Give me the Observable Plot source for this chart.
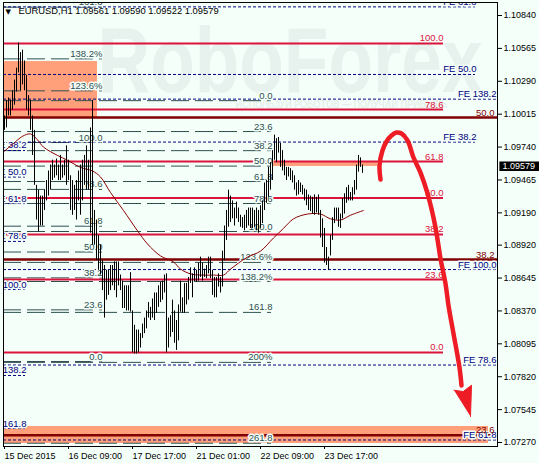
<!DOCTYPE html>
<html><head><meta charset="utf-8">
<script src="https://cdn.jsdelivr.net/npm/d3@7"></script>
<script src="https://cdn.jsdelivr.net/npm/@observablehq/plot@0.6"></script>
<style>
html,body{margin:0;padding:0;background:#F5FFFA;}
#chart svg{display:block;}
</style></head><body><div id="chart"></div>
<script>
// ---------- data ----------
const symbolName = "EURUSD,H1";
const lastOHLC = [1.09561, 1.09590, 1.09522, 1.09579];

const highs = [
1.1000,1.1013,1.1015,1.1013,1.1021,1.1030,1.1040,1.1061,1.1053,1.1055,
1.1046,1.1034,1.1017,1.1013,1.1000,1.0988,1.0942,1.0938,1.0933,1.0933,
1.0938,1.0946,1.0954,1.0959,1.0963,1.0959,1.0964,1.0959,1.0967,1.0959,
1.0963,1.0975,1.0963,1.0950,1.0946,1.0942,1.0946,1.0954,1.0959,1.0963,
1.0967,1.0975,1.0963,1.0990,1.1013,1.0921,1.0913,1.0900,1.0892,1.0879,
1.0875,1.0871,1.0871,1.0875,1.0875,1.0878,1.0878,1.0878,1.0867,1.0862,
1.0858,1.0858,1.0858,1.0869,1.0837,1.0825,1.0821,1.0821,1.0818,1.0826,
1.0831,1.0837,1.0844,1.0840,1.0847,1.0852,1.0852,1.0858,1.0861,1.0862,
1.0867,1.0868,1.0831,1.0833,1.0846,1.0837,1.0829,1.0842,1.0862,1.0848,
1.0860,1.0860,1.0865,1.0873,1.0868,1.0873,1.0871,1.0877,1.0882,1.0877,
1.0872,1.0875,1.0882,1.0882,1.0871,1.0865,1.0865,1.0868,1.0865,1.0887,
1.0908,1.0921,1.0938,1.0933,1.0929,1.0923,1.0928,1.0923,1.0917,1.0915,
1.0917,1.0921,1.0923,1.0923,1.0923,1.0921,1.0923,1.0921,1.0925,1.0929,
1.0944,1.0946,1.0957,1.0961,1.0971,1.0984,1.0981,1.0982,1.0977,1.0971,
1.0963,1.0957,1.0957,1.0956,1.0954,1.0950,1.0944,1.0946,1.0944,1.0942,
1.0939,1.0938,1.0934,1.0933,1.0932,1.0934,1.0932,1.0934,1.0921,1.0914,
1.0906,1.0890,1.0882,1.0900,1.0915,1.0923,1.0923,1.0923,1.0918,1.0931,
1.0935,1.0940,1.0942,1.0936,1.0940,1.0946,1.0959,1.0967,1.0965,1.0959];
const lows = [
1.0988,1.0990,1.1000,1.1000,1.1005,1.1009,1.1020,1.1036,1.1021,1.1026,
1.1021,1.1005,1.1000,1.0988,1.0967,1.0942,1.0913,1.0903,1.0908,1.0908,
1.0921,1.0929,1.0933,1.0938,1.0946,1.0948,1.0950,1.0946,1.0946,1.0948,
1.0950,1.0942,1.0946,1.0921,1.0917,1.0921,1.0913,1.0929,1.0917,1.0929,
1.0942,1.0938,1.0938,1.0902,1.0892,1.0892,1.0879,1.0871,1.0867,1.0854,
1.0831,1.0846,1.0850,1.0854,1.0858,1.0854,1.0848,1.0858,1.0854,1.0839,
1.0839,1.0837,1.0837,1.0836,1.0802,1.0801,1.0801,1.0802,1.0806,1.0814,
1.0818,1.0822,1.0831,1.0829,1.0831,1.0829,1.0835,1.0840,1.0844,1.0846,
1.0852,1.0802,1.0806,1.0815,1.0819,1.0810,1.0804,1.0812,1.0836,1.0835,
1.0835,1.0842,1.0846,1.0860,1.0848,1.0861,1.0861,1.0862,1.0865,1.0862,
1.0865,1.0864,1.0868,1.0864,1.0850,1.0848,1.0848,1.0857,1.0852,1.0857,
1.0879,1.0896,1.0907,1.0911,1.0914,1.0908,1.0914,1.0911,1.0907,1.0906,
1.0904,1.0906,1.0908,1.0906,1.0906,1.0907,1.0904,1.0902,1.0906,1.0910,
1.0921,1.0927,1.0932,1.0938,1.0946,1.0963,1.0961,1.0969,1.0957,1.0954,
1.0950,1.0946,1.0949,1.0946,1.0944,1.0938,1.0933,1.0934,1.0936,1.0934,
1.0929,1.0925,1.0921,1.0920,1.0918,1.0917,1.0919,1.0917,1.0898,1.0890,
1.0877,1.0875,1.0871,1.0883,1.0896,1.0910,1.0913,1.0907,1.0906,1.0914,
1.0918,1.0927,1.0929,1.0929,1.0929,1.0934,1.0938,1.0953,1.0957,1.0952];

// moving average (hour index, price)
const maHours = [0,5,9.5,13.5,17,20,27,32,38.5,44.5,48.5,53.5,60,67,72,78.5,85,88.5,93.5,98.5,105,110,113.5,117.5,122,128.5,135,140,145,152,158.5,163.5,168.5,173.5,180];
const maValues = [1.0970,1.0977,1.0983,1.0985,1.0980,1.0974,1.0967,1.0963,1.0957,1.0954,1.0949,1.0936,1.0921,1.0904,1.0893,1.0883,1.0878,1.0872,1.0868,1.0867,1.0867,1.0867,1.0872,1.0877,1.0882,1.0887,1.0898,1.0906,1.0914,1.0918,1.0918,1.0914,1.0913,1.0917,1.0921];

// time axis
const timeTickHours = [0,32,64,96,128,160];
const timeTickLabels = ["15 Dec 2015","16 Dec 09:00","17 Dec 17:00","21 Dec 01:00","22 Dec 09:00","23 Dec 17:00"];
const priceTicks = [1.10840,1.10565,1.10290,1.10015,1.09740,1.09465,1.09190,1.08920,1.08645,1.08370,1.08095,1.07820,1.07545,1.07270];

// Fibonacci tools: [price at 0%, price at 100%]
const retrLevels = [0,23.6,38.2,50,61.8,78.6,100,123.6,138.2,161.8,200,261.8];
const retrLabels = ["0.0","23.6","38.2","50.0","61.8","78.6","100.0","123.6%","138.2%","161.8","200%","261.8"];
const redLevels = [0,23.6,38.2,50,61.8,78.6,100];
const redLabels = ["0.0","23.6","38.2","50.0","61.8","78.6","100.0"];
const feLevels = [38.2,50,61.8,78.6,100,138.2,161.8];
const feLabels = ["FE 38.2","FE 50.0","FE 61.8","FE 78.6","FE 100.0","FE 138.2","FE 161.8"];
const fibA = [1.07947, 1.09778];
const fibB = [1.10128, 1.09034];
const fibC = [1.08023, 1.10606];
const fibD = [1.04957, 1.15017];
const feE = [1.10430, 1.08549];
const feF = [1.07952, 1.12742];
const feG = [1.04986, 1.08716];

// zones
const zoneStart = [0, 135, 0];
const zoneEnd = [47, 187, 242.5];
const zoneTop = [1.10455, 1.09611, 1.07404];
const zoneBottom = [1.09987, 1.09578, 1.07262];

// forecast arrow (hour index, price)
const arrowHours = [188.5,188,189.5,191.5,194,196.5,199,202,205,208.5,212,216,218.5,221,222.5,225,228,229];
const arrowPrices = [1.09469,1.09586,1.09711,1.09787,1.09837,1.09862,1.09853,1.09795,1.09653,1.09527,1.09352,1.09068,1.08808,1.08599,1.08415,1.08181,1.07897,1.07747];
const headHours = [225.25,229.85,234,233.5];
const headPrices = [1.07707,1.07696,1.07749,1.07487];

// ---------- build ----------
const BG = "#F5FFFA";
const bars = highs.map((h, i) => ({t: i + 0.5, high: h, low: lows[i]}));
const ma = maHours.map((t, i) => ({t, v: maValues[i]}));
const arrow = arrowHours.map((t, i) => ({t, v: arrowPrices[i]}));
const head = headHours.map((t, i) => ({t, v: headPrices[i]}));
const zones = zoneStart.map((s, i) => ({x1: s, x2: zoneEnd[i], y1: zoneBottom[i], y2: zoneTop[i]}));

function levelRows(tool, levels, labels, lineEnd, labelAt, lineStart = 0) {
  return levels.map((r, i) => ({
    price: tool[0] + (tool[1] - tool[0]) * r / 100,
    label: labels[i], x1: lineStart, x2: lineEnd, lx: labelAt
  }));
}
const setA = levelRows(fibA, retrLevels, retrLabels, 49.5, 49.5);
const setB = levelRows(fibB, retrLevels, retrLabels, 134, 134.5);
const setC = levelRows(fibC, redLevels, redLabels, 220, 220);
const setD = levelRows(fibD, redLevels, redLabels, 247, 245.5);
const setE = levelRows(feE, feLevels, feLabels, 11, 11.5, -20);
const setF = levelRows(feF, feLevels, feLabels, 236, 236.5);
const setG = levelRows(feG, feLevels, feLabels, 247, 246.5);

const GRAY = "#2F4F4F", NAVY = "#000080", CRIMSON = "#DC143C", MAROON = "#800000";
const labelFont = {fontSize: 9.5, fontFamily: "Liberation Sans, Arial, sans-serif"};

function rules(data, stroke, width, dash) {
  return Plot.ruleY(data, {y: "price", x1: "x1", x2: "x2", stroke, strokeWidth: width, strokeDasharray: dash, clip: true});
}
function labels(data, fill, halo) {
  return Plot.text(data, {y: "price", x: "lx", text: "label", fill, textAnchor: "end", lineAnchor: "bottom", dy: -2,
    ...labelFont, clip: true, ...(halo ? {stroke: BG, strokeWidth: 3, paintOrder: "stroke"} : {})});
}

const chart = Plot.plot({
  width: 539, height: 463,
  marginLeft: 3, marginRight: 42, marginTop: 2, marginBottom: 17,
  style: {background: BG, fontFamily: "Liberation Sans, Arial, sans-serif", fontSize: "9px", color: "black"},
  x: {domain: [0, 247]},
  y: {domain: [1.072366, 1.109487]},
  marks: [
    Plot.text(["RoboForex"], {text: d => d, frameAnchor: "top-left", dx: 94, dy: 89, lineAnchor: "bottom",
      textAnchor: "start", fontSize: 92, fontWeight: "bold", fill: "#E7F1ED", fontFamily: "Liberation Sans, Arial"}),
    Plot.text(["ИСПОЛЬЗУЙ РОБОТОВ — ПОЛУЧАЙ ПРИБЫЛЬ"], {text: d => d, frameAnchor: "top-left", dx: 232, dy: 102,
      lineAnchor: "middle", textAnchor: "start", fontSize: 11, fontWeight: "bold", fill: "#E6EFEB", fontFamily: "Liberation Sans, Arial"}),
    Plot.rect(zones, {x1: "x1", x2: "x2", y1: "y1", y2: "y2", fill: "#FFA07A", clip: true}),
    rules(setA, GRAY, 1, "18,6"),
    rules(setB, GRAY, 1, "18,6"),
    rules(setE, NAVY, 1, "3,2"),
    rules(setF, NAVY, 1, "3,2"),
    rules(setG, NAVY, 1, "3,2"),
    rules(setC, CRIMSON, 2, null),
    rules(setD, MAROON, 2.5, null),
    labels(setA, GRAY, true),
    labels(setB, GRAY, true),
    labels(setE, NAVY, true),
    labels(setF, NAVY, true),
    labels(setG, NAVY, true),
    labels(setC, CRIMSON, false),
    labels(setD, MAROON, false),
    Plot.line(ma, {x: "t", y: "v", stroke: "#8B0000", strokeWidth: 1, curve: "catmull-rom", clip: true}),
    Plot.ruleX(bars, {x: "t", y1: "low", y2: "high", stroke: "black", strokeWidth: 1}),
    Plot.line(arrow, {x: "t", y: "v", stroke: "#EE1C25", strokeWidth: 4.5, curve: "catmull-rom"}),
    Plot.line(head, {x: "t", y: "v", stroke: "#EE1C25", strokeWidth: 1, fill: "#EE1C25", strokeLinejoin: "miter"}),
    Plot.frame({stroke: "black"}),
    Plot.axisY({anchor: "right", ticks: priceTicks, tickFormat: d => d.toFixed(5), tickSize: 4, tickPadding: 2, label: null, fontSize: 9}),
    Plot.axisX({ticks: timeTickHours, tickFormat: d => timeTickLabels[timeTickHours.indexOf(d)], tickSize: 3, tickPadding: 3,
      textAnchor: "start", dx: 1, label: null, fontSize: 9}),
    Plot.ruleY([lastOHLC[3]], {y: d => d, x1: 248.2, x2: 268, stroke: "black", strokeWidth: 9.5, clip: false}),
    Plot.text([lastOHLC[3]], {y: d => d, x: 249.5, text: d => d.toFixed(5), fill: "white", textAnchor: "start", fontSize: 9, clip: false}),
    Plot.text(["▼"], {text: d => d, frameAnchor: "top-left", dx: 2, dy: 9, lineAnchor: "middle", textAnchor: "start", fontSize: 7, fontFamily: "DejaVu Sans"}),
    Plot.text([`${symbolName} ${lastOHLC.map(v => v.toFixed(5)).join(" ")}`], {text: d => d, frameAnchor: "top-left", dx: 15, dy: 5,
      lineAnchor: "top", textAnchor: "start", fontSize: 9.4, fill: "black"})
  ]
});
document.getElementById("chart").appendChild(chart);
d3.select(chart).selectAll("text").filter(function(){ return this.textContent === "RoboForex"; })
  .attr("textLength", 385).attr("lengthAdjust", "spacingAndGlyphs");
d3.select(chart).selectAll("text").filter(function(){ return this.textContent.startsWith("ИСПОЛЬЗУЙ"); })
  .attr("textLength", 212).attr("lengthAdjust", "spacingAndGlyphs");
</script></body></html>
